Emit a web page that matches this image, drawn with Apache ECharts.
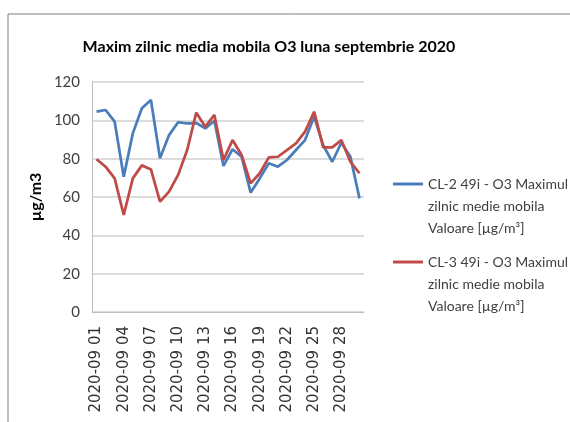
<!DOCTYPE html>
<html>
<head>
<meta charset="utf-8">
<script src="https://cdn.jsdelivr.net/npm/echarts@6/dist/echarts.min.js"></script>
<style>
  html, body { margin: 0; padding: 0; background: #fff; }
  #chartID { width: 570px; height: 422px; }
</style>
</head>
<body>
<div id="chartID"></div>
<script>
var days = [];
for (var d = 1; d <= 30; d++) {
    days.push('2020-09 ' + (d < 10 ? '0' + d : d));
}

// CL-2 49i
var cl2Values = [104.5, 105.4, 99.3, 70.6, 93.2, 106.3, 110.6, 80.2, 92.3, 99,
    98.4, 98.6, 95.8, 99.8, 76.2, 84.9, 81, 62.3, 69.7, 77.6,
    75.8, 79.3, 84.5, 89.7, 101.9, 87.1, 78.4, 88.3, 81, 59.3];

// CL-3 49i
var cl3Values = [79.7, 75.8, 69.7, 50.6, 69.7, 76.5, 74.4, 57.6, 62.8, 71.5,
    84.5, 104, 96.7, 102.8, 79.3, 89.7, 81.9, 67.1, 72.4, 80.7,
    81, 84.5, 88, 94.1, 104.5, 85.9, 85.9, 89.7, 78.4, 72.4];

var seriesNames = [
    'CL-2 49i - O3 Maximul\nzilnic medie mobila\nValoare [µg/m³]',
    'CL-3 49i - O3 Maximul\nzilnic medie mobila\nValoare [µg/m³]'
];
var seriesColors = ['#4a7ebb', '#be4b48'];

var chart = echarts.init(document.getElementById('chartID'));

var option = {
    animation: false,
    textStyle: { fontFamily: 'Lato' },
    title: {
        text: 'Maxim zilnic media mobila O3 luna septembrie 2020',
        left: 264,
        textAlign: 'center',
        top: 34,
        textStyle: { fontFamily: 'Lato', fontSize: 16, fontWeight: 'bold', color: '#000' }
    },
    graphic: [{
        type: 'rect',
        shape: { x: 8, y: 14, width: 620, height: 500 },
        style: { fill: 'none', stroke: '#7f7f7f', lineWidth: 1 },
        silent: true
    }],
    legend: {
        orient: 'vertical',
        left: 388,
        top: 124,
        itemGap: -32,
        itemWidth: 30,
        itemHeight: 3,
        icon: 'rect',
        formatter: function (name) {
            return '\n\n' + name;
        },
        textStyle: { fontFamily: 'Lato', fontSize: 14, color: '#404040', lineHeight: 22 },
        data: seriesNames
    },
    grid: { left: 92, right: 206, top: 82, bottom: 110 },
    xAxis: {
        type: 'category',
        data: days,
        boundaryGap: true,
        axisLine: { lineStyle: { color: '#bfbfbf' } },
        axisTick: { show: false },
        axisLabel: {
            interval: 2,
            rotate: 90,
            margin: 14,
            fontFamily: 'DejaVu Sans',
            fontSize: 15,
            color: '#333'
        }
    },
    yAxis: {
        type: 'value',
        min: 0,
        max: 120,
        interval: 20,
        name: 'µg/m3',
        nameLocation: 'middle',
        nameRotate: 90,
        nameGap: 48,
        nameTextStyle: { fontFamily: 'Lato', fontSize: 16, fontWeight: 'bold', color: '#000' },
        axisLine: { show: true, lineStyle: { color: '#bfbfbf' } },
        axisTick: { show: false },
        axisLabel: { fontFamily: 'Lato', fontSize: 15, color: '#404040', margin: 12 },
        splitLine: { lineStyle: { color: '#d0d0d0', width: 1.5 } }
    },
    series: [
        {
            name: seriesNames[0],
            type: 'line',
            data: cl2Values,
            showSymbol: false,
            color: seriesColors[0],
            lineStyle: { width: 2.75, color: seriesColors[0] }
        },
        {
            name: seriesNames[1],
            type: 'line',
            data: cl3Values,
            showSymbol: false,
            color: seriesColors[1],
            lineStyle: { width: 2.75, color: seriesColors[1] }
        }
    ]
};

chart.setOption(option);
</script>
</body>
</html>
